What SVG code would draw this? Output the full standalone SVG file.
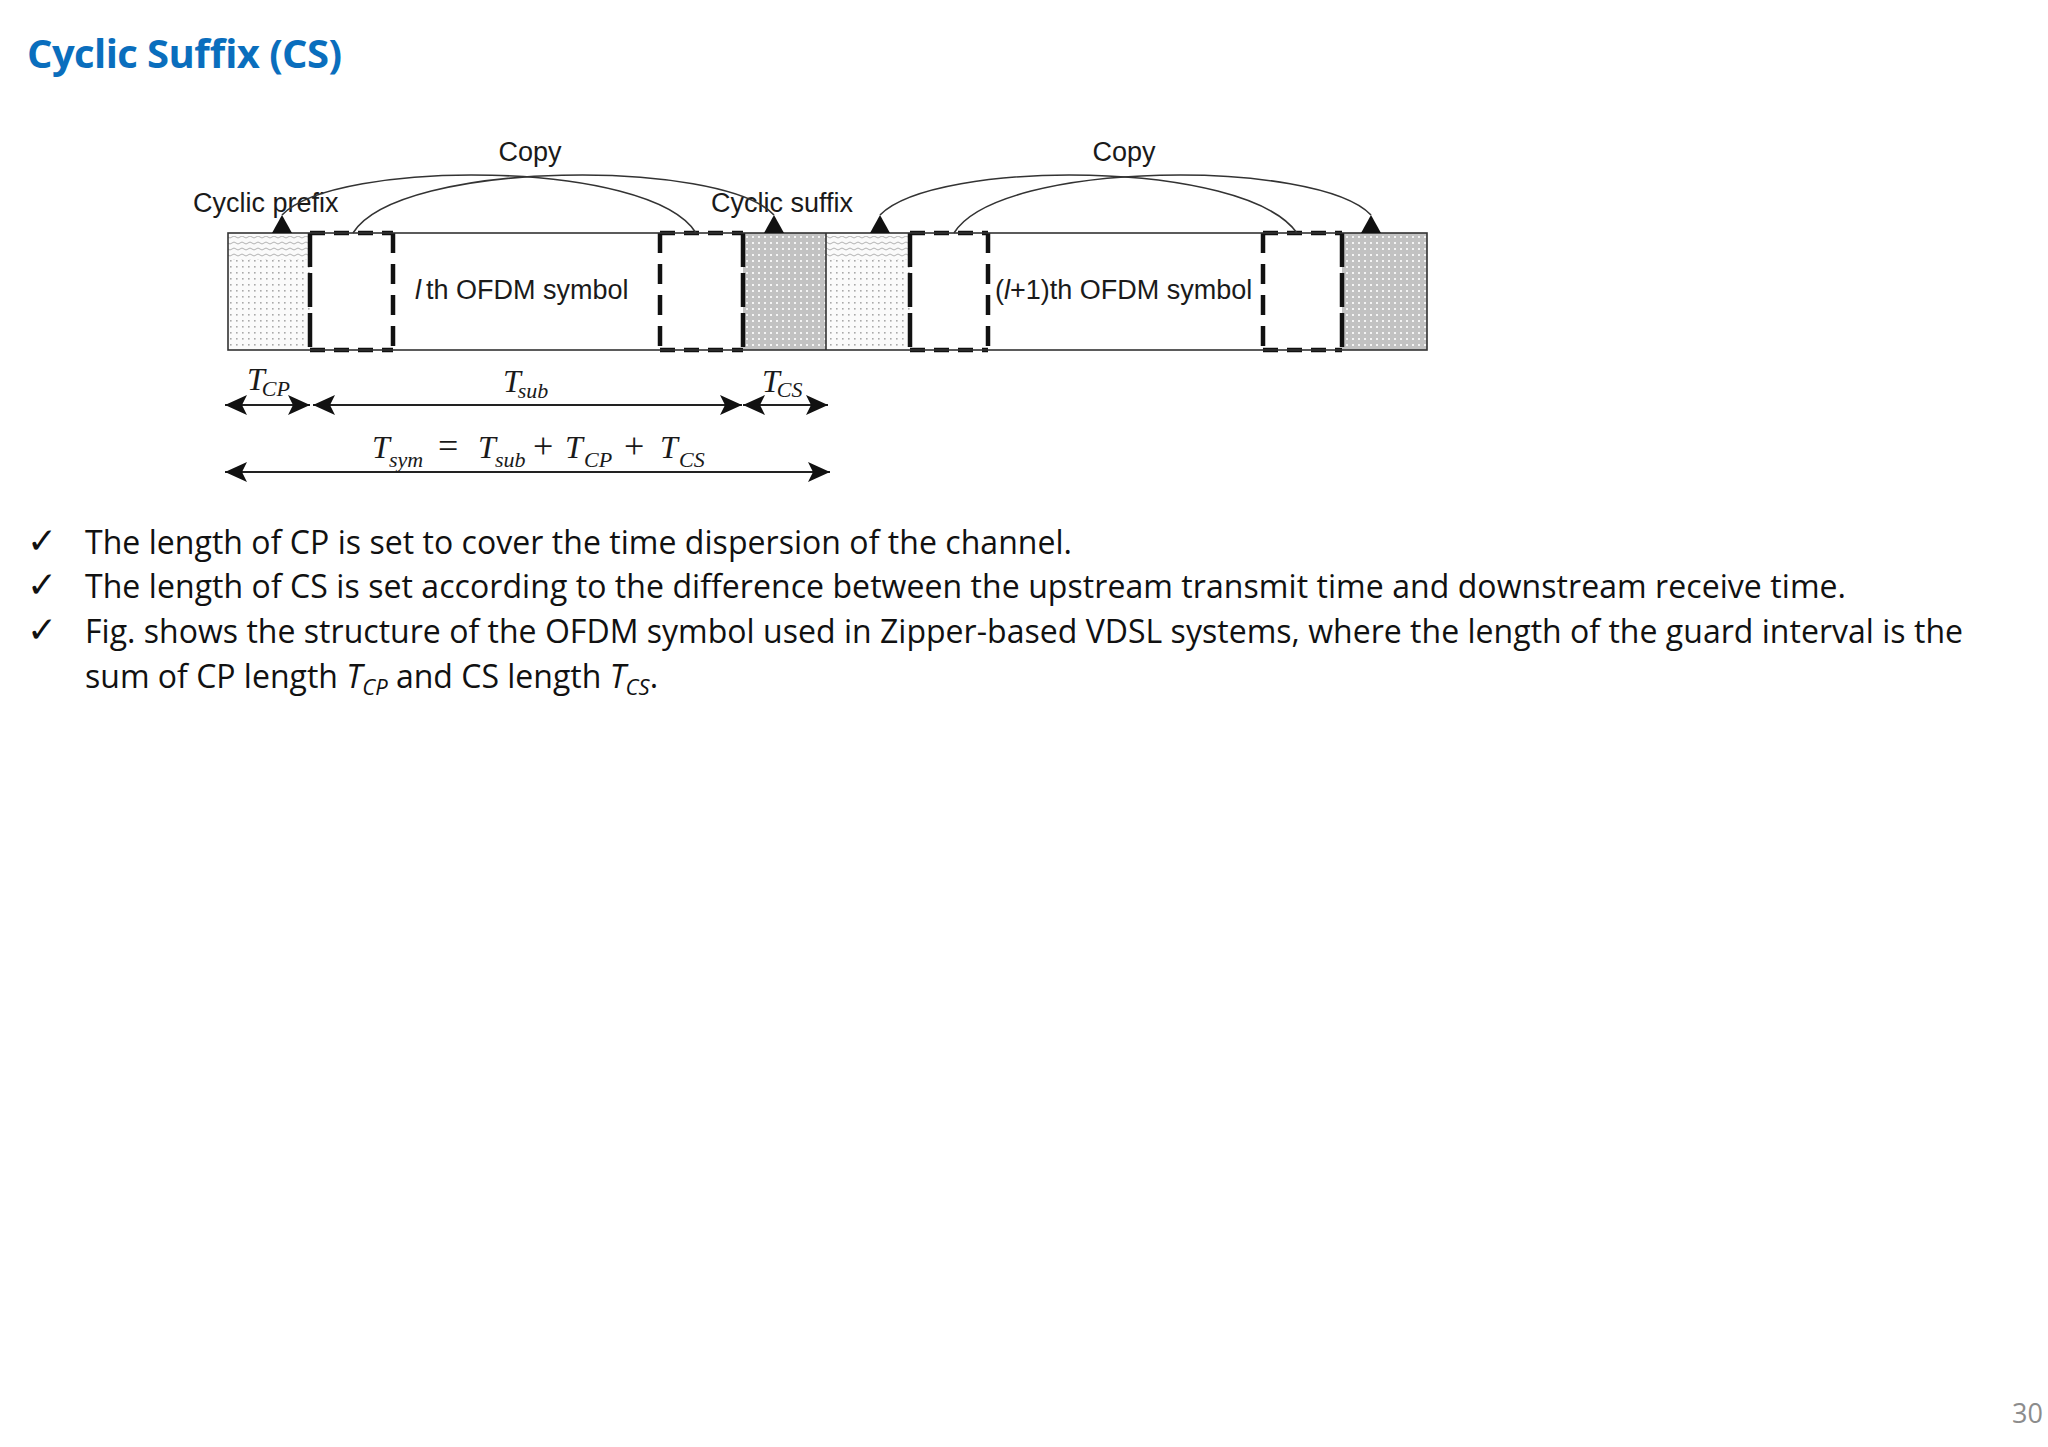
<svg xmlns="http://www.w3.org/2000/svg" width="2048" height="1447" viewBox="0 0 2048 1447">
<style>
.title{font-family:"Open Sans","Noto Sans",sans-serif;font-weight:bold;font-size:40px;fill:#0a6ebd}
.body{font-family:"Open Sans","Noto Sans",sans-serif;font-size:32px;fill:#111}
.chk{font-family:"DejaVu Sans",sans-serif;font-size:36px;fill:#111}
.lbl{font-family:"Liberation Sans",Arial,sans-serif;font-size:27px;fill:#1a1a1a}
.math{font-family:"Liberation Serif","Times New Roman",serif;font-style:italic;fill:#1a1a1a}
.T{font-size:32px}
.sub{font-size:22px}
.op{font-style:normal;font-size:36px}
.outline{fill:none;stroke:#333;stroke-width:1.6}
.dash{fill:none;stroke:#111;stroke-width:4.5}
.dh{stroke-dasharray:15 9}
.dv{stroke-dasharray:20 11}
.dvs{stroke-dasharray:34 6}
.arc{fill:none;stroke:#333;stroke-width:1.6}
.dim{fill:none;stroke:#222;stroke-width:2.2}
.pg{font-family:"Open Sans","Noto Sans",sans-serif;font-size:27px;fill:#8c8c8c}
</style>
<defs>
<pattern id="dotsLight" width="6" height="6" patternUnits="userSpaceOnUse"><rect width="6" height="6" fill="#fafafa"/><rect x="2" y="2" width="1.6" height="1.6" fill="#a9a9a9"/></pattern>
<pattern id="wave" width="8" height="6" patternUnits="userSpaceOnUse"><rect width="8" height="6" fill="#fafafa"/><path d="M0,3 Q2,1 4,3 T8,3" fill="none" stroke="#a9a9a9" stroke-width="0.9"/></pattern>
<pattern id="dotsDark" width="6" height="6" patternUnits="userSpaceOnUse"><rect width="6" height="6" fill="#c2c2c2"/><rect x="2" y="2" width="2" height="2" fill="#f4f4f4"/></pattern>
<marker id="tri" viewBox="-11 -1 22 20" refX="0" refY="0" markerWidth="22" markerHeight="20" markerUnits="userSpaceOnUse" orient="0"><path d="M0,0 L-10,18 L10,18 Z" fill="#111"/></marker>
<marker id="ah" viewBox="-24 -12 26 24" refX="0" refY="0" markerWidth="26" markerHeight="24" markerUnits="userSpaceOnUse" orient="auto-start-reverse"><path d="M0,0 L-22,-10 L-17,0 L-22,10 Z" fill="#111"/></marker>
</defs>
<rect width="2048" height="1447" fill="#ffffff"/>

<g id="title"><text class="title" x="27" y="68" textLength="315">Cyclic Suffix (CS)</text></g>

<g id="symbol-l">
<rect x="228" y="233" width="82" height="117" fill="url(#dotsLight)"/>
<rect x="228" y="236" width="82" height="24" fill="url(#wave)"/>
<rect x="743" y="233" width="83" height="117" fill="url(#dotsDark)"/>
<line class="dash dh" x1="310" y1="233" x2="393" y2="233"/>
<line class="dash dh" x1="310" y1="350" x2="393" y2="350"/>
<line class="dash dvs" x1="310" y1="233" x2="310" y2="350"/>
<line class="dash dv" x1="393" y1="233" x2="393" y2="350"/>
<line class="dash dh" x1="660" y1="233" x2="743" y2="233"/>
<line class="dash dh" x1="660" y1="350" x2="743" y2="350"/>
<line class="dash dv" x1="660" y1="233" x2="660" y2="350"/>
<line class="dash dvs" x1="743" y1="233" x2="743" y2="350"/>
<text class="lbl" x="415" y="299"><tspan font-style="italic">l</tspan><tspan dx="5">th OFDM symbol</tspan></text>
</g>

<g id="symbol-l1">
<rect x="826" y="233" width="84" height="117" fill="url(#dotsLight)"/>
<rect x="826" y="236" width="84" height="24" fill="url(#wave)"/>
<rect x="1342" y="233" width="85" height="117" fill="url(#dotsDark)"/>
<line class="dash dh" x1="910" y1="233" x2="988" y2="233"/>
<line class="dash dh" x1="910" y1="350" x2="988" y2="350"/>
<line class="dash dvs" x1="910" y1="233" x2="910" y2="350"/>
<line class="dash dv" x1="988" y1="233" x2="988" y2="350"/>
<line class="dash dh" x1="1263" y1="233" x2="1342" y2="233"/>
<line class="dash dh" x1="1263" y1="350" x2="1342" y2="350"/>
<line class="dash dv" x1="1263" y1="233" x2="1263" y2="350"/>
<line class="dash dvs" x1="1342" y1="233" x2="1342" y2="350"/>
<text class="lbl" x="995" y="299">(<tspan font-style="italic">l</tspan>+1)th OFDM symbol</text>
</g>

<g id="frame">
<rect class="outline" x="228" y="233" width="1199" height="117"/>
<line class="outline" x1="826" y1="233" x2="826" y2="350"/>
</g>

<g id="labels">
<text class="lbl" x="193" y="212">Cyclic prefix</text>
<text class="lbl" x="711" y="212">Cyclic suffix</text>
<text class="lbl" x="530" y="161" text-anchor="middle">Copy</text>
<text class="lbl" x="1124" y="161" text-anchor="middle">Copy</text>
</g>

<g id="connectors">
<path class="arc" d="M696,233 C650,159 335,159 282,215" marker-end="url(#tri)"/>
<path class="arc" d="M353,233 C400,159 722,159 774,215" marker-end="url(#tri)"/>
<path class="arc" d="M1297,233 C1245,159 935,159 880,215" marker-end="url(#tri)"/>
<path class="arc" d="M954,233 C1000,159 1318,159 1371,215" marker-end="url(#tri)"/>
<line class="dim" x1="225" y1="405" x2="310" y2="405" marker-start="url(#ah)" marker-end="url(#ah)"/>
<line class="dim" x1="313" y1="405" x2="742" y2="405" marker-start="url(#ah)" marker-end="url(#ah)"/>
<line class="dim" x1="743" y1="405" x2="828" y2="405" marker-start="url(#ah)" marker-end="url(#ah)"/>
<line class="dim" x1="225" y1="472" x2="830" y2="472" marker-start="url(#ah)" marker-end="url(#ah)"/>
</g>

<g id="dimension-labels">
<text class="math" x="247" y="390"><tspan class="T">T</tspan><tspan class="sub" dx="-3" dy="6">CP</tspan></text>
<text class="math" x="503" y="392"><tspan class="T">T</tspan><tspan class="sub" dx="-3" dy="6">sub</tspan></text>
<text class="math" x="762" y="392"><tspan class="T">T</tspan><tspan class="sub" dx="-3" dy="5">CS</tspan></text>
<text class="math" y="458"><tspan class="T" x="372">T</tspan><tspan class="sub" x="389" dy="9">sym</tspan><tspan class="op" x="438" dy="-9">=</tspan><tspan class="T" x="478">T</tspan><tspan class="sub" x="495" dy="9">sub</tspan><tspan class="op" x="533" dy="-9">+</tspan><tspan class="T" x="565">T</tspan><tspan class="sub" x="584" dy="9">CP</tspan><tspan class="op" x="624" dy="-9">+</tspan><tspan class="T" x="660">T</tspan><tspan class="sub" x="679" dy="9">CS</tspan></text>
</g>

<g id="bullets">
<text class="chk" x="27" y="553">✓</text>
<text class="chk" x="27" y="597">✓</text>
<text class="chk" x="27" y="642">✓</text>
<text class="body" x="85" y="554" textLength="987">The length of CP is set to cover the time dispersion of the channel.</text>
<text class="body" x="85" y="598" textLength="1761">The length of CS is set according to the difference between the upstream transmit time and downstream receive time.</text>
<text class="body" x="85" y="643" textLength="1878">Fig. shows the structure of the OFDM symbol used in Zipper-based VDSL systems, where the length of the guard interval is the</text>
<text class="body" x="85" y="688">sum of CP length <tspan font-style="italic">T</tspan><tspan font-style="italic" font-size="22" dy="7">CP</tspan><tspan dy="-7"> and CS length </tspan><tspan font-style="italic">T</tspan><tspan font-style="italic" font-size="22" dy="7">CS</tspan><tspan dy="-7">.</tspan></text>
</g>

<g id="page-number"><text class="pg" x="2012" y="1423">30</text></g>
</svg>
